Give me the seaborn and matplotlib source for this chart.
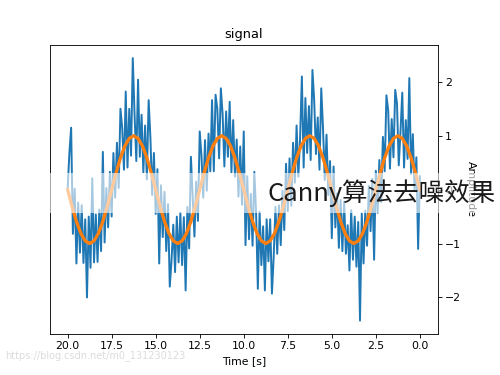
import numpy as np
import matplotlib
matplotlib.use("Agg")
import matplotlib.pyplot as plt
from matplotlib.patches import Rectangle
import seaborn as sns

noisy = [
    0.25, -1.10, 0.60, -0.03, 1.03, 0.29, 2.07, 0.57, 1.29, 0.41,
    1.80, 1.08, 0.45, 1.60, 1.85, 0.60, 1.31, 0.39, 1.47, 1.75,
    0.34, 0.98, -0.23, 0.55, -0.43, 0.35, -1.30, 0.20, -0.77, 0.07,
    -1.04, -0.39, -1.37, -0.44, -2.43, -0.60, -1.43, -0.50, -1.30, -0.38,
    -1.50, -0.66, -1.19, -0.22, -1.14, -0.19, -1.08, -0.07, -0.70, 0.43,
    -0.90, 0.53, -0.10, 1.02, 0.18, 1.14, 1.88, 0.37, 1.34, 0.66,
    1.65, 2.22, 0.55, 1.55, 0.68, 1.70, 0.41, 2.10, 0.97, 0.24,
    1.19, 0.13, 0.87, -0.30, 0.58, -0.40, 0.48, -0.75, -0.02, -1.03,
    -0.29, -1.19, -0.32, -1.24, -1.93, -0.55, -1.33, -0.55, -1.87, -0.68,
    -1.40, -0.41, -1.84, -0.42, 0.33, -1.04, -0.08, -0.92, 0.25, -1.03,
    1.08, -0.28, 0.80, -0.13, 0.93, 0.24, 1.29, 0.32, 1.63, 0.61,
    1.45, 0.43, 1.40, 1.88, 0.58, 1.50, 1.76, 0.34, 1.66, 0.34,
    1.04, -0.02, 0.92, -0.15, 0.63, 1.08, -0.58, 0.15, -0.87, -0.13,
    0.61, -1.09, -0.32, -1.87, -0.51, -1.40, -0.43, -1.35, -0.50, -1.53,
    -0.65, -1.31, -1.80, -0.27, -1.14, -0.04, -0.88, 0.08, -1.37, 0.38,
    -0.45, 0.68, -0.10, 0.97, 1.66, 0.19, 1.19, 0.32, 1.39, 0.61,
    2.04, 0.53, 1.40, 2.44, 0.63, 1.50, 0.41, 1.82, 0.37, 1.14,
    1.50, 0.03, 0.87, -0.15, 0.68, -0.50, 0.33, -0.70, 0.03, -0.98,
    0.70, -1.14, -0.37, -1.34, -0.46, -1.35, 0.21, -1.45, -0.50, -2.00,
    -0.55, -1.36, -0.29, -1.17, -0.24, -1.37, 0.02, -0.82, 1.15, 0.68,
    0.00,
]

# denoised curve, every 0.25 s
smooth = [
    0.00, 0.31, 0.59, 0.81, 0.95, 1.00, 0.95, 0.81, 0.59, 0.31,
    0.00, -0.31, -0.59, -0.81, -0.95, -1.00, -0.95, -0.81, -0.59, -0.31,
    0.00, 0.31, 0.59, 0.81, 0.95, 1.00, 0.95, 0.81, 0.59, 0.31,
    0.00, -0.31, -0.59, -0.81, -0.95, -1.00, -0.95, -0.81, -0.59, -0.31,
    0.00, 0.31, 0.59, 0.81, 0.95, 1.00, 0.95, 0.81, 0.59, 0.31,
    0.00, -0.31, -0.59, -0.81, -0.95, -1.00, -0.95, -0.81, -0.59, -0.31,
    0.00, 0.31, 0.59, 0.81, 0.95, 1.00, 0.95, 0.81, 0.59, 0.31,
    0.00, -0.31, -0.59, -0.81, -0.95, -1.00, -0.95, -0.81, -0.59, -0.31,
    0.00,
]

t_noisy = np.linspace(0, 20, len(noisy))
t_smooth = np.linspace(0, 20, len(smooth))

fig = plt.figure(figsize=(6.4, 4.8), dpi=78.125)
ax = fig.add_axes([0.1, 0.11, 0.775, 0.77])

sns.lineplot(x=t_noisy, y=noisy, ax=ax, color="#1f77b4", linewidth=1.8)
sns.lineplot(x=t_smooth, y=smooth, ax=ax, color="#ff7f0e", linewidth=3)

ax.set_xlim(21, -1)
ax.set_xticks([0, 2.5, 5, 7.5, 10, 12.5, 15, 17.5, 20])
ax.yaxis.tick_right()
ax.yaxis.set_label_position("right")
ax.set_title("signal")
ax.set_xlabel("Time [s]")
ax.set_ylabel("Amplitude", rotation=270, labelpad=14)

# white band with caption on top of everything
fig.patches.append(Rectangle((0, 0.432), 1, 0.107, transform=fig.transFigure,
                             facecolor="white", alpha=0.6, edgecolor="none", zorder=5))
fig.text(0.535, 0.485, "Canny算法去噪效果", fontsize=23.5, color="#1a1a1a",
         family=["Noto Sans CJK SC", "DejaVu Sans"], weight="light",
         ha="left", va="center", zorder=6)
fig.text(0.01, 0.052, "https://blog.csdn.net/m0_131230123", fontsize=9,
         color="#dcdcdc", ha="left", va="center")

fig.savefig("out.png", dpi=78.125)
